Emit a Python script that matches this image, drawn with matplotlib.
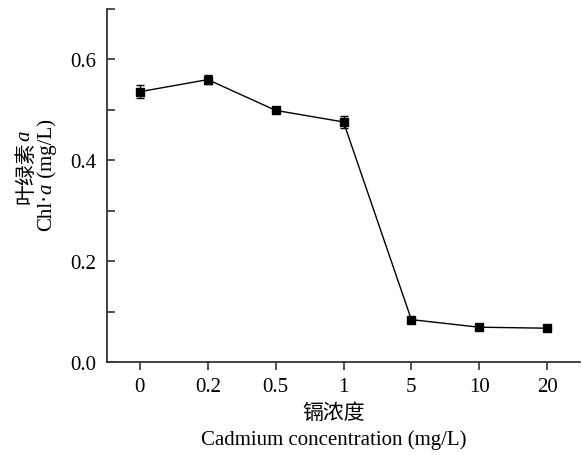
import matplotlib
matplotlib.use("Agg")
import matplotlib.pyplot as plt
from matplotlib.ticker import MultipleLocator

categories = ["0", "0.2", "0.5", "1", "5", "10", "20"]
chl_a = [0.536, 0.560, 0.499, 0.476, 0.084, 0.069, 0.067]
chl_err = [0.0125, 0.009, 0.004, 0.012, 0.003, 0.003, 0.003]

SERIF = "Liberation Serif"
CJK = "Noto Sans CJK SC"
FS = 15

W, H = 582, 456
fig = plt.figure(figsize=(W / 100, H / 100), dpi=100)
ax = fig.add_axes([107 / W, 1 - 363 / H, (580 - 107) / W, (363 - 10) / H])

x = list(range(len(categories)))
ax.errorbar(x, chl_a, yerr=chl_err, color="black", lw=1.0, marker="s",
            markersize=5.6, capsize=3.2, elinewidth=1.0, capthick=1.0)

ax.set_xlim(-0.485, 6.485)
ax.set_ylim(0, 0.7)
ax.set_xticks(x)
ax.set_xticklabels(categories)
ax.yaxis.set_minor_locator(MultipleLocator(0.1))
ax.set_yticks([0.0, 0.2, 0.4, 0.6])
ax.set_yticklabels(["0.0", "0.2", "0.4", "0.6"])

for s in ["top", "right"]:
    ax.spines[s].set_visible(False)
for s in ["left", "bottom"]:
    ax.spines[s].set_linewidth(1.3)
    ax.spines[s].set_color("#333333")

ax.tick_params(axis="y", which="both", direction="in", length=6, width=1.2,
               color="#333333", pad=8)
ax.tick_params(axis="x", which="major", direction="out", length=6, width=1.2,
               color="#333333", pad=5)
for lab in ax.get_xticklabels() + ax.get_yticklabels():
    lab.set_fontfamily(SERIF)
    lab.set_fontsize(FS)

# x labels
fig.text(334 / W, 1 - 413 / H, "镉浓度", family=CJK, fontsize=FS,
         ha="center", va="center")
fig.text(334 / W, 1 - 440 / H, "Cadmium concentration (mg/L)", family=SERIF,
         fontsize=FS, ha="center", va="center")

# y label with mixed styles, rotated
renderer = fig.canvas.get_renderer()

def rotated_line(xc, ycenter, pieces):
    texts = []
    total = 0
    for s, fam, style in pieces:
        t = fig.text(0, 0, s, family=fam, style=style, fontsize=FS,
                     rotation=90, rotation_mode="anchor", ha="left", va="center",
                     transform=None)
        ext = t.get_window_extent(renderer)
        texts.append((t, ext.height))
        total += ext.height
    y0 = (H - ycenter) - total / 2
    cur = y0
    for t, h in texts:
        t.set_position((xc, cur))
        cur += h

rotated_line(25, 167, [("叶绿素", CJK, "normal"), ("a", SERIF, "italic")])
rotated_line(47, 175, [("Chl·", SERIF, "normal"), ("a", SERIF, "italic"),
                       (" (mg/L)", SERIF, "normal")])

fig.savefig("out.png", dpi=100)
